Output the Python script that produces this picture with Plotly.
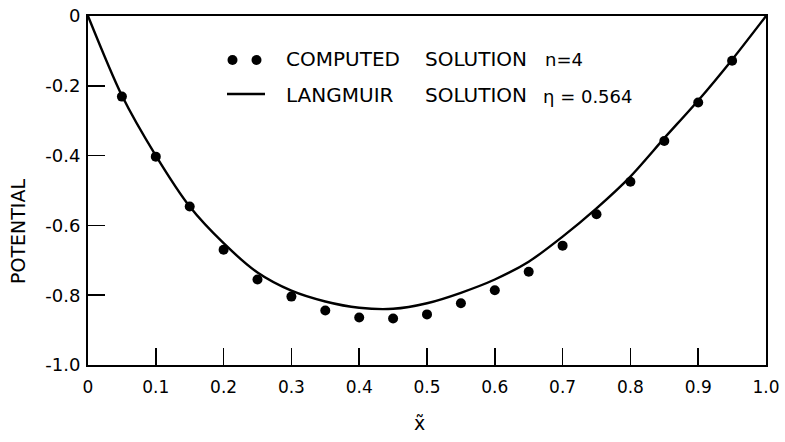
import plotly.graph_objects as go

# ---- data ----
x_line = [0.0, 0.05, 0.10, 0.15, 0.20, 0.25, 0.30, 0.35, 0.40, 0.45, 0.50,
          0.55, 0.60, 0.65, 0.70, 0.75, 0.80, 0.85, 0.90, 0.95, 1.0]
langmuir = [0.0, -0.228, -0.400, -0.546, -0.651, -0.735, -0.787, -0.818, -0.836, -0.839, -0.823,
            -0.793, -0.755, -0.704, -0.632, -0.551, -0.460, -0.350, -0.242, -0.125, 0.0]

x_pts = [0.05, 0.10, 0.15, 0.20, 0.25, 0.30, 0.35, 0.40, 0.45, 0.50,
         0.55, 0.60, 0.65, 0.70, 0.75, 0.80, 0.85, 0.90, 0.95]
computed = [-0.231, -0.403, -0.546, -0.670, -0.755, -0.804, -0.844, -0.864, -0.867, -0.855,
            -0.823, -0.786, -0.733, -0.658, -0.568, -0.475, -0.358, -0.248, -0.128]

x_ticks = [0, 0.1, 0.2, 0.3, 0.4, 0.5, 0.6, 0.7, 0.8, 0.9, 1.0]
x_ticktext = ["0", "0.1", "0.2", "0.3", "0.4", "0.5", "0.6", "0.7", "0.8", "0.9", "1.0"]
y_ticks = [0, -0.2, -0.4, -0.6, -0.8, -1.0]
y_ticktext = ["0", "-0.2", "-0.4", "-0.6", "-0.8", "-1.0"]

# ---- layout geometry (page pixels; page body margin removed below) ----
W, H = 785, 442
PLOT_L, PLOT_R, PLOT_T, PLOT_B = 88, 766, 16, 365  # plot area in pixels
L = PLOT_L
T = PLOT_T
PW = PLOT_R - PLOT_L
PH = PLOT_B - PLOT_T
R = W - L - PW
B = H - T - PH

def px(xp):  # pixel x -> paper
    return (xp - PLOT_L) / PW

def py(yp):  # pixel y -> paper
    return (PLOT_B - yp) / PH

FONT = "DejaVu Sans"

fig = go.Figure()
fig.add_trace(go.Scatter(x=x_line, y=langmuir, mode="lines",
                         line=dict(color="black", width=2.4, shape="spline", smoothing=0.8),
                         showlegend=False))
fig.add_trace(go.Scatter(x=x_pts, y=computed, mode="markers",
                         marker=dict(color="black", size=10),
                         showlegend=False))

fig.update_xaxes(range=[0, 1], tickvals=x_ticks, ticktext=x_ticktext,
                 ticks="inside", ticklen=17, tickwidth=1.5, tickcolor="black",
                 showline=True, linewidth=2, linecolor="black", mirror=True,
                 showgrid=False, zeroline=False, automargin=False,
                 tickfont=dict(family=FONT, size=17, color="black"),
                 ticklabelstandoff=6, ticklabeloverflow="allow")
fig.update_yaxes(range=[-1, 0], tickvals=y_ticks, ticktext=y_ticktext,
                 ticks="inside", ticklen=17, tickwidth=1.5, tickcolor="black",
                 showline=True, linewidth=2, linecolor="black", mirror=True,
                 showgrid=False, zeroline=False, automargin=False,
                 tickfont=dict(family=FONT, size=18, color="black"),
                 ticklabelstandoff=2, ticklabeloverflow="allow")

shapes = [
    dict(type="circle", xref="paper", yref="paper",
         x0=px(227.5), x1=px(237.5), y0=py(65), y1=py(55),
         fillcolor="black", line=dict(color="black", width=0)),
    dict(type="circle", xref="paper", yref="paper",
         x0=px(251.5), x1=px(261.5), y0=py(65), y1=py(55),
         fillcolor="black", line=dict(color="black", width=0)),
    dict(type="line", xref="paper", yref="paper",
         x0=px(227), x1=px(265), y0=py(94), y1=py(94),
         line=dict(color="black", width=2.4)),
]

def ann(text, xp, yp, size=19, xanchor="left", angle=0):
    return dict(text=text, x=px(xp), y=py(yp), xref="paper", yref="paper",
                xanchor=xanchor, yanchor="middle", showarrow=False, textangle=angle,
                font=dict(family=FONT, size=size, color="black"))

annotations = [
    ann("COMPUTED", 284, 59, 20),
    ann("SOLUTION", 423, 59, 20),
    ann("n=4", 543, 60, 18),
    ann("LANGMUIR", 284, 95, 20),
    ann("SOLUTION", 423, 95, 20),
    ann("η = 0.564", 541, 96, 18),
    ann("POTENTIAL", 18, 232, 19, xanchor="center", angle=-90),
    ann("x\u0303", 419, 423, 19, xanchor="center"),
]

fig.update_layout(width=W, height=H, margin=dict(l=L, r=R, t=T, b=B, autoexpand=False),
                  paper_bgcolor="white", plot_bgcolor="white",
                  shapes=shapes, annotations=annotations, showlegend=False,
                  hovermode=False)

fig.write_html("out.html",
               config={"displayModeBar": False, "staticPlot": True},
               post_script="document.body.style.margin='0';document.body.style.overflow='hidden';")
